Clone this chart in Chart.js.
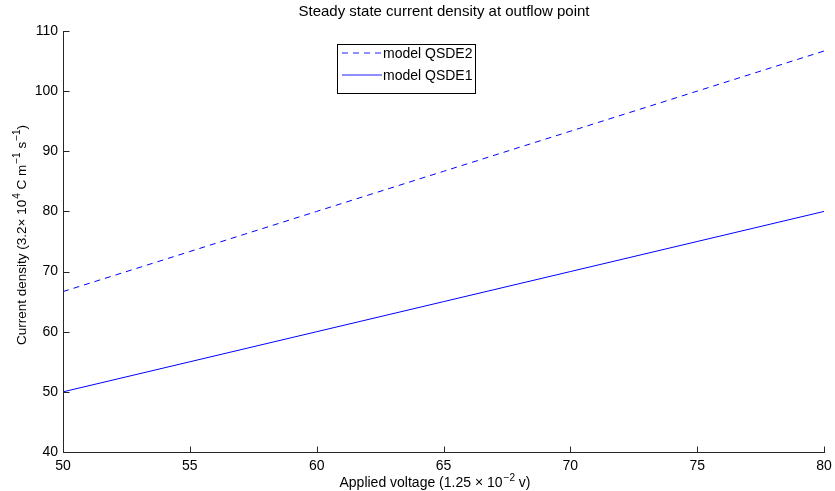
<!DOCTYPE html>
<html>
<head>
<meta charset="utf-8">
<script src="https://cdn.jsdelivr.net/npm/chart.js@4.4.0/dist/chart.umd.min.js"></script>
<style>
  html, body { margin: 0; padding: 0; background: #fff; }
  #wrap { width: 835px; height: 491px; }
</style>
</head>
<body>
<div id="wrap"><canvas id="myChart" width="835" height="491"></canvas></div>
<script>
var voltage = [50, 55, 60, 65, 70, 75, 80];
var qsde2 = [66.67, 73.33, 80, 86.67, 93.33, 100, 106.67];
var qsde1 = [50, 55, 60, 65, 70, 75, 80];
var xTicks = [50, 55, 60, 65, 70, 75, 80];
var yTicks = [40, 50, 60, 70, 80, 90, 100, 110];

var fontFam = "'Liberation Sans', Arial, Helvetica, sans-serif";
var titleText = 'Steady state current density at outflow point';
// label pieces: [text, superscript?]
var xLabel = [['Applied voltage (1.25 \u00d7 10', false], ['\u22122', true], [' v)', false]];
var yLabel = [['Current density (3.2\u00d7 10', false], ['4', true], [' C m', false], ['\u22121', true], [' s', false], ['\u22121', true], [')', false]];

function pts(ys) {
    var out = [];
    for (var i = 0; i < voltage.length; i++) out.push({x: voltage[i], y: ys[i]});
    return out;
}

function richText(ctx, parts, cx, cy, size) {
    var sup = Math.round(size * 0.72);
    var w = 0;
    parts.forEach(function (p) {
        ctx.font = (p[1] ? sup : size) + 'px ' + fontFam;
        w += ctx.measureText(p[0]).width + (p[1] ? 1 : 0);
    });
    var x = cx - w / 2;
    ctx.textAlign = 'left';
    ctx.textBaseline = 'alphabetic';
    parts.forEach(function (p) {
        ctx.font = (p[1] ? sup : size) + 'px ' + fontFam;
        ctx.fillText(p[0], x + (p[1] ? 1 : 0), cy + size * 0.36 - (p[1] ? size * 0.45 : 0));
        x += ctx.measureText(p[0]).width + (p[1] ? 1 : 0);
    });
}

// axes lines, inward ticks, titles and legend box
var extras = {
    id: 'extras',
    afterDraw: function (chart) {
        var ctx = chart.ctx;
        var a = chart.chartArea;
        var xs = chart.scales.x, ys = chart.scales.y;
        var L = Math.round(a.left) + 0.5, B = Math.round(a.bottom) + 0.5;
        ctx.save();
        ctx.strokeStyle = '#262626';
        ctx.lineWidth = 1;
        ctx.beginPath();
        ctx.moveTo(L, Math.round(a.top));
        ctx.lineTo(L, B);
        ctx.lineTo(Math.round(a.right) + 1, B);
        xTicks.forEach(function (v) {
            var px = Math.round(xs.getPixelForValue(v)) + 0.5;
            ctx.moveTo(px, B);
            ctx.lineTo(px, B - 6);
        });
        yTicks.forEach(function (v) {
            var py = Math.round(ys.getPixelForValue(v)) + 0.5;
            ctx.moveTo(L, py);
            ctx.lineTo(L + 6, py);
        });
        ctx.stroke();

        ctx.fillStyle = '#000';
        ctx.font = '15px ' + fontFam;
        ctx.textAlign = 'center';
        ctx.textBaseline = 'middle';
        ctx.fillText(titleText, 444, 12);

        richText(ctx, xLabel, 435, 482, 14);
        ctx.save();
        ctx.translate(21, 235);
        ctx.rotate(-Math.PI / 2);
        richText(ctx, yLabel, 0, 0, 13.5);
        ctx.restore();

        // legend
        var bx = 337.5, by = 44.5, bw = 138, bh = 49;
        ctx.fillStyle = '#fff';
        ctx.fillRect(bx, by, bw, bh);
        ctx.strokeStyle = '#000';
        ctx.strokeRect(bx, by, bw, bh);
        var ds = chart.data.datasets;
        var rows = [53, 75];
        for (var i = 0; i < ds.length; i++) {
            ctx.beginPath();
            ctx.lineWidth = 1.2;
            ctx.strokeStyle = '#2020ff';
            ctx.setLineDash(ds[i].borderDash || []);
            ctx.moveTo(342, rows[i]);
            ctx.lineTo(382, rows[i]);
            ctx.stroke();
            ctx.setLineDash([]);
            ctx.fillStyle = '#000';
            ctx.font = '14px ' + fontFam;
            ctx.textAlign = 'left';
            ctx.textBaseline = 'middle';
            ctx.fillText(ds[i].label, 383, rows[i] + 1);
        }
        ctx.restore();
    }
};

new Chart(document.getElementById('myChart').getContext('2d'), {
    type: 'line',
    data: {
        datasets: [
            {
                label: 'model QSDE2',
                data: pts(qsde2),
                borderColor: '#0000ff',
                borderWidth: 1,
                borderDash: [6, 5],
                pointRadius: 0,
                fill: false,
                tension: 0
            },
            {
                label: 'model QSDE1',
                data: pts(qsde1),
                borderColor: '#0000ff',
                borderWidth: 1,
                pointRadius: 0,
                fill: false,
                tension: 0
            }
        ]
    },
    options: {
        responsive: false,
        animation: false,
        layout: { padding: { left: 0, top: 31, right: 11, bottom: 0 } },
        plugins: {
            legend: { display: false },
            tooltip: { enabled: false }
        },
        scales: {
            x: {
                type: 'linear',
                min: 50, max: 80,
                afterBuildTicks: function (s) { s.ticks = xTicks.map(function (v) { return {value: v}; }); },
                afterFit: function (s) { s.height = 39; s.paddingLeft = 0; s.paddingRight = 0; },
                grid: { display: false, drawTicks: false },
                border: { display: false },
                ticks: { color: '#000', font: { family: fontFam, size: 14 }, padding: 6, maxRotation: 0 }
            },
            y: {
                type: 'linear',
                min: 40, max: 110,
                afterBuildTicks: function (s) { s.ticks = yTicks.map(function (v) { return {value: v}; }); },
                afterFit: function (s) { s.width = 63; s.paddingTop = 0; s.paddingBottom = 0; },
                grid: { display: false, drawTicks: false },
                border: { display: false },
                ticks: { color: '#000', font: { family: fontFam, size: 14 }, padding: 5 }
            }
        }
    },
    plugins: [extras]
});
</script>
</body>
</html>
